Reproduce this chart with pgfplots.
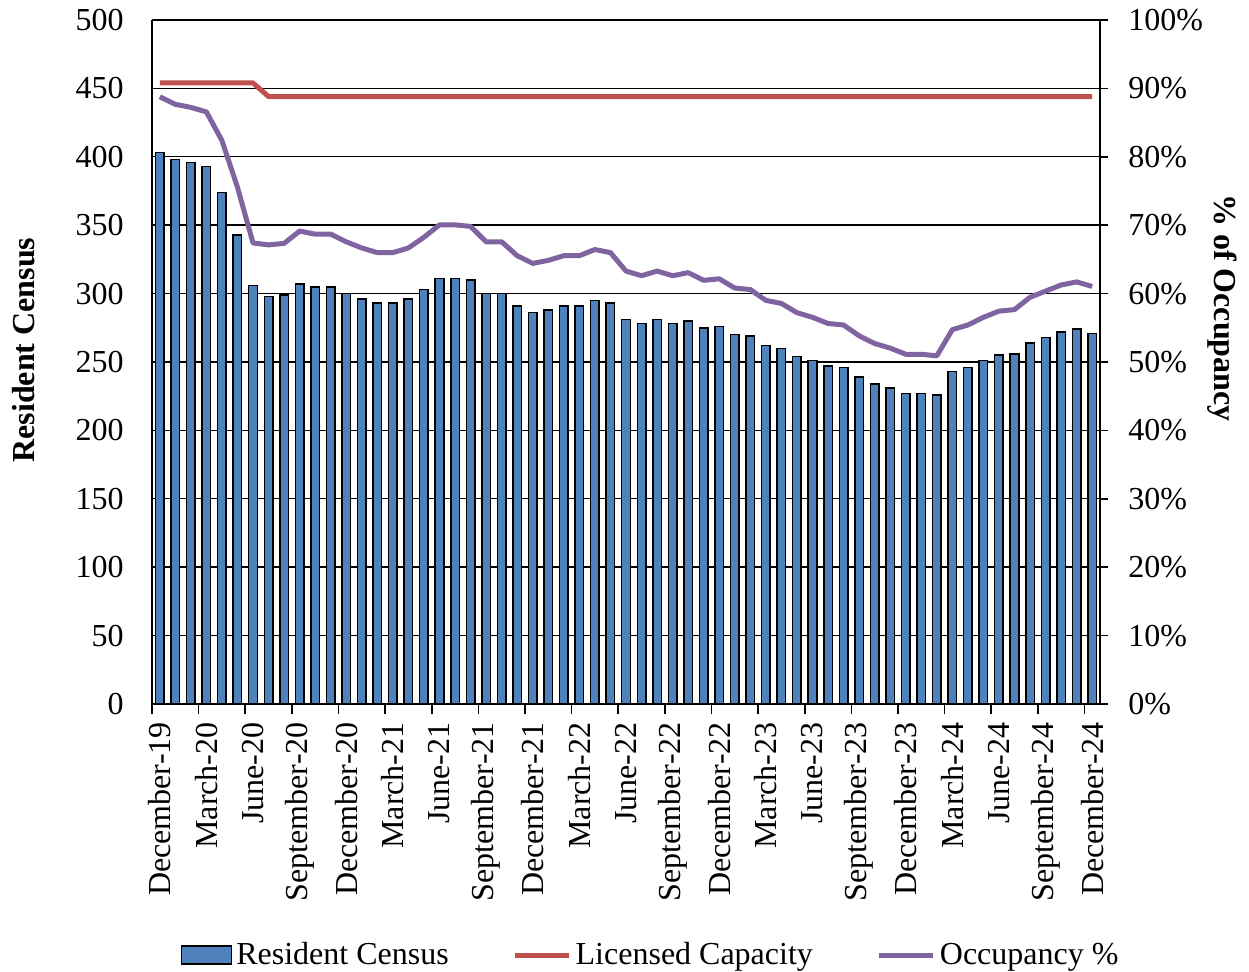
\documentclass[border=0pt]{standalone}
\usepackage{pgfplots}
\pgfplotsset{compat=1.18}
\usepackage{pgfplotstable}
\usepackage{fontspec}
\setmainfont{Liberation Serif}
\definecolor{barblue}{RGB}{79,129,189}
\definecolor{capred}{RGB}{192,80,77}
\definecolor{occpurple}{RGB}{128,100,162}
\newcommand\fs{\fontsize{16}{19}\selectfont}
\pgfplotstableread{
x census cap occ
0 403 454 88.77
1 398 454 87.67
2 396 454 87.22
3 393 454 86.56
4 374 454 82.38
5 343 454 75.55
6 306 454 67.40
7 298 444 67.12
8 299 444 67.34
9 307 444 69.14
10 305 444 68.69
11 305 444 68.69
12 300 444 67.57
13 296 444 66.67
14 293 444 65.99
15 293 444 65.99
16 296 444 66.67
17 303 444 68.24
18 311 444 70.05
19 311 444 70.05
20 310 444 69.82
21 300 444 67.57
22 300 444 67.57
23 291 444 65.54
24 286 444 64.41
25 288 444 64.86
26 291 444 65.54
27 291 444 65.54
28 295 444 66.44
29 293 444 65.99
30 281 444 63.29
31 278 444 62.61
32 281 444 63.29
33 278 444 62.61
34 280 444 63.06
35 275 444 61.94
36 276 444 62.16
37 270 444 60.81
38 269 444 60.59
39 262 444 59.01
40 260 444 58.56
41 254 444 57.21
42 251 444 56.53
43 247 444 55.63
44 246 444 55.41
45 239 444 53.83
46 234 444 52.70
47 231 444 52.03
48 227 444 51.13
49 227 444 51.13
50 226 444 50.90
51 243 444 54.73
52 246 444 55.41
53 251 444 56.53
54 255 444 57.43
55 256 444 57.66
56 264 444 59.46
57 268 444 60.36
58 272 444 61.26
59 274 444 61.71
60 271 444 61.04
}\data
\begin{document}
\begin{tikzpicture}
\path[use as bounding box] (-76pt,-134pt) rectangle (548.5pt,352pt);
\begin{axis}[
  scale only axis, width=474pt, height=342pt,
  xmin=-0.5, xmax=60.5, ymin=0, ymax=500,
  axis x line*=bottom, axis y line*=left,
  axis line style={black, line width=0.8pt},
  ytick={0,50,...,500},
  ymajorgrids, grid style={black, line width=0.7pt},
  major tick length=0pt,
  xtick={0,3,...,60},
  xticklabels={December-19,March-20,June-20,September-20,December-20,March-21,June-21,September-21,December-21,March-22,June-22,September-22,December-22,March-23,June-23,September-23,December-23,March-24,June-24,September-24,December-24},
  extra x ticks={-0.5,2.5,...,59.5},
  extra x tick labels={},
  extra x tick style={tick align=outside, major tick length=5pt, tick style={black, line width=0.8pt}},
  ticklabel style={font=\fs},
  /pgf/number format/assume math mode=true,
  xticklabel style={rotate=90, anchor=east, inner sep=0pt, xshift=-9pt},
  yticklabel style={anchor=east, inner sep=0pt, xshift=-14pt},
  ylabel={\textbf{Resident Census}},
  every axis y label/.style={at={(axis description cs:-0.135,0.5175)}, anchor=center, rotate=90, font=\fs},
  clip=false,
]
\addplot[ybar, bar width=0.55, fill=barblue, draw=black, line width=0.75pt] table[x=x, y=census] {\data};
\addplot[capred, line width=2.5pt, line join=round, mark=none] table[x=x, y=cap] {\data};
\end{axis}
\begin{axis}[
  scale only axis, width=474pt, height=342pt,
  xmin=-0.5, xmax=60.5, ymin=0, ymax=100,
  axis x line=none, axis y line*=right,
  axis line style={black, line width=0.8pt},
  ytick={0,10,...,100},
  yticklabels={0\%,10\%,20\%,30\%,40\%,50\%,60\%,70\%,80\%,90\%,100\%},
  tick align=outside, major tick length=4pt,
  tick style={black, line width=0.8pt},
  ticklabel style={font=\fs},
  yticklabel style={anchor=west, inner sep=0pt, xshift=10pt},
  ylabel={\textbf{\% of Occupancy}},
  every axis y label/.style={at={(axis description cs:1.1287,0.579)}, anchor=center, rotate=-90, font=\fs},
  legend style={at={(0.527,-0.367)}, anchor=center, draw=none, font=\fs, legend columns=3,
    /tikz/every even column/.append style={column sep=30pt}},
  legend cell align=left,
  clip=false,
]
\addlegendimage{legend image code/.code={\draw[fill=barblue,draw=black,line width=0.8pt] (0pt,-4.5pt) rectangle (25pt,4.5pt);}}
\addlegendentry{Resident Census}
\addlegendimage{legend image code/.code={\draw[capred,line width=2.5pt] (0pt,0pt) -- (27pt,0pt);}}
\addlegendentry{Licensed Capacity}
\addplot[occpurple, line width=2.5pt, line join=round, mark=none,
  legend image code/.code={\draw[occpurple,line width=2.5pt] (0pt,0pt) -- (27pt,0pt);}] table[x=x, y=occ] {\data};
\addlegendentry{Occupancy \%}
\end{axis}
\end{tikzpicture}
\end{document}
